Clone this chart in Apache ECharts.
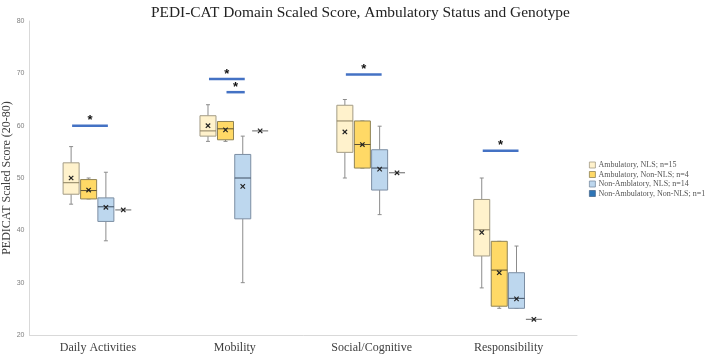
<!DOCTYPE html>
<html>
<head>
<meta charset="utf-8">
<script src="https://cdn.jsdelivr.net/npm/echarts@6/dist/echarts.min.js"></script>
<style>
  html, body { margin: 0; padding: 0; background: #fff; }
  #app { width: 708px; height: 356px; }
</style>
</head>
<body>
<div id="app"></div>
<script>
// categories and series
var categories = ['Daily Activities', 'Mobility', 'Social/Cognitive', 'Responsibility'];
var seriesNames = [
    'Ambulatory, NLS; n=15',
    'Ambulatory, Non-NLS; n=4',
    'Non-Amblatory, NLS; n=14',
    'Non-Ambulatory, Non-NLS; n=1'
];

// [min, Q1, median, Q3, max] per category
var ambNls = [[45, 46.9, 49.1, 52.9, 56], [57, 58, 59, 61.9, 64], [50, 54.9, 60.9, 63.9, 65], [29, 35.1, 40.1, 45.9, 50]];
var ambNlsMean = [50, 60, 58.8, 39.6];
var ambNonNls = [[46, 46, 47.6, 49.7, 50], [57, 57.3, 59.4, 60.8, 60.8], [51.9, 51.9, 56.4, 60.9, 60.9], [25.1, 25.5, 32.4, 37.9, 37.9]];
var ambNonNlsMean = [47.7, 59.2, 56.4, 31.9];
var nonAmbNls = [[38, 41.7, 44.5, 46.2, 51.1], [30, 42.2, 50, 54.5, 58], [43, 47.7, 51.9, 55.4, 59.9], [25.1, 25.1, 27, 31.9, 37]];
var nonAmbNlsMean = [44.4, 48.4, 51.7, 26.9];
// single subject
var nonAmbNonNls = [43.9, 59, 51, 23];

// significance bars: category, left box, right box, value
var sigCats = [0, 1, 1, 2, 3];
var sigFrom = [0, 0, 1, 0, 0];
var sigTo = [2, 2, 2, 2, 2];
var sigValues = [60, 68.9, 66.4, 69.8, 55.2];

var yTicks = [20, 30, 40, 50, 60, 70, 80];

// layout of the boxes inside a category band (fractions of band width)
var boxOffsets = [-0.196, -0.068, 0.058, 0.185];
var boxWidth = 0.117;

var fills = ['#FFF2CC', '#FFD966', '#BDD7EE', '#2E75B6'];
var borders = ['#A39C86', '#8F8356', '#7C8EA3', '#4A6A8F'];
var medians = ['#8A7E5E', '#5E5230', '#3E4E62', '#333'];
var whiskerColor = '#8C8C8C';

function xMark(cx, cy) {
    var s = 2.2;
    return [
        { type: 'line', shape: { x1: cx - s, y1: cy - s, x2: cx + s, y2: cy + s }, style: { stroke: '#222', lineWidth: 1.2 } },
        { type: 'line', shape: { x1: cx - s, y1: cy + s, x2: cx + s, y2: cy - s }, style: { stroke: '#222', lineWidth: 1.2 } }
    ];
}

function boxRenderer(idx) {
    return function (params, api) {
        var cat = api.value(0);
        var band = api.size([1, 0])[0];
        var cx = api.coord([cat, 0])[0] + boxOffsets[idx] * band;
        var w = boxWidth * band;
        var yMin = api.coord([cat, api.value(1)])[1];
        var yQ1 = api.coord([cat, api.value(2)])[1];
        var yMed = api.coord([cat, api.value(3)])[1];
        var yQ3 = api.coord([cat, api.value(4)])[1];
        var yMax = api.coord([cat, api.value(5)])[1];
        var yMean = api.coord([cat, api.value(6)])[1];
        var cap = 2;
        var children = [
            { type: 'line', shape: { x1: cx, y1: yMax, x2: cx, y2: yQ3 }, style: { stroke: whiskerColor, lineWidth: 1 } },
            { type: 'line', shape: { x1: cx, y1: yQ1, x2: cx, y2: yMin }, style: { stroke: whiskerColor, lineWidth: 1 } },
            { type: 'line', shape: { x1: cx - cap, y1: yMax, x2: cx + cap, y2: yMax }, style: { stroke: whiskerColor, lineWidth: 1 } },
            { type: 'line', shape: { x1: cx - cap, y1: yMin, x2: cx + cap, y2: yMin }, style: { stroke: whiskerColor, lineWidth: 1 } },
            { type: 'rect', shape: { x: cx - w / 2, y: yQ3, width: w, height: yQ1 - yQ3 }, style: { fill: fills[idx], stroke: borders[idx], lineWidth: 1 } },
            { type: 'line', shape: { x1: cx - w / 2, y1: yMed, x2: cx + w / 2, y2: yMed }, style: { stroke: medians[idx], lineWidth: 1 } }
        ];
        return { type: 'group', children: children.concat(xMark(cx, yMean)) };
    };
}

function boxData(stats, means) {
    return stats.map(function (s, i) { return [i, s[0], s[1], s[2], s[3], s[4], means[i]]; });
}

var series = [
    { name: seriesNames[0], type: 'custom', renderItem: boxRenderer(0), data: boxData(ambNls, ambNlsMean), encode: { x: 0, y: [1, 2, 3, 4, 5, 6] }, itemStyle: { color: fills[0] } },
    { name: seriesNames[1], type: 'custom', renderItem: boxRenderer(1), data: boxData(ambNonNls, ambNonNlsMean), encode: { x: 0, y: [1, 2, 3, 4, 5, 6] }, itemStyle: { color: fills[1] } },
    { name: seriesNames[2], type: 'custom', renderItem: boxRenderer(2), data: boxData(nonAmbNls, nonAmbNlsMean), encode: { x: 0, y: [1, 2, 3, 4, 5, 6] }, itemStyle: { color: fills[2] } },
    {
        name: seriesNames[3], type: 'custom',
        data: nonAmbNonNls.map(function (v, i) { return [i, v]; }),
        encode: { x: 0, y: 1 },
        itemStyle: { color: fills[3] },
        renderItem: function (params, api) {
            var cat = api.value(0);
            var band = api.size([1, 0])[0];
            var cx = api.coord([cat, 0])[0] + boxOffsets[3] * band;
            var cy = api.coord([cat, api.value(1)])[1];
            var w = boxWidth * band;
            return {
                type: 'group',
                children: [
                    { type: 'line', shape: { x1: cx - w / 2, y1: cy, x2: cx + w / 2, y2: cy }, style: { stroke: '#666', lineWidth: 1 } }
                ].concat(xMark(cx, cy))
            };
        }
    },
    {
        name: 'sig', type: 'custom', silent: true,
        data: sigCats.map(function (c, i) { return [c, sigValues[i], sigFrom[i], sigTo[i]]; }),
        encode: { x: 0, y: 1 },
        renderItem: function (params, api) {
            var cat = api.value(0);
            var band = api.size([1, 0])[0];
            var base = api.coord([cat, api.value(1)]);
            var x1 = base[0] + boxOffsets[api.value(2)] * band + 1;
            var x2 = base[0] + boxOffsets[api.value(3)] * band + 2;
            return {
                type: 'group',
                children: [
                    { type: 'line', shape: { x1: x1, y1: base[1], x2: x2, y2: base[1] }, style: { stroke: '#4472C4', lineWidth: 2.5 } },
                    { type: 'text', x: (x1 + x2) / 2, y: base[1] - 5, style: { text: '*', fill: '#111', font: 'bold 13px "Liberation Sans", Arial', align: 'center', verticalAlign: 'middle' } }
                ]
            };
        }
    }
];

var myEchart = echarts.init(document.getElementById('app'));
myEchart.setOption({
    animation: false,
    title: {
        text: 'PEDI-CAT Domain Scaled Score, Ambulatory Status and Genotype',
        left: 146, top: 0,
        textStyle: { fontFamily: '"Liberation Serif", "Times New Roman", serif', fontSize: 15.4, fontWeight: 'normal', color: '#222' }
    },
    legend: {
        orient: 'vertical', left: 584, top: 156,
        icon: 'rect', itemWidth: 6, itemHeight: 6, itemGap: 1.5,
        textStyle: { fontFamily: '"Liberation Serif", "Times New Roman", serif', fontSize: 8, color: '#555', padding: [0, 0, 0, -2] },
        data: seriesNames.map(function (n, i) {
            return { name: n, itemStyle: { color: fills[i], borderColor: borders[i], borderWidth: 0.8 } };
        })
    },
    grid: { left: 29.5, right: 131, top: 21, bottom: 21, outerBoundsMode: 'none' },
    xAxis: {
        type: 'category', data: categories,
        axisLine: { lineStyle: { color: '#D9D9D9' } },
        axisTick: { show: false },
        axisLabel: { margin: 7, fontFamily: '"Liberation Serif", "Times New Roman", serif', fontSize: 12, color: '#404040' }
    },
    yAxis: {
        type: 'value', min: yTicks[0], max: yTicks[yTicks.length - 1], interval: 10,
        name: 'PEDICAT Scaled Score (20-80)', nameLocation: 'middle', nameGap: 17, nameMoveOverlap: false,
        nameTextStyle: { fontFamily: '"Liberation Serif", "Times New Roman", serif', fontSize: 12, color: '#404040' },
        axisLine: { show: true, lineStyle: { color: '#D9D9D9' } },
        axisTick: { show: false },
        splitLine: { show: false },
        axisLabel: { margin: 5, fontSize: 7, color: '#7F7F7F', fontFamily: '"Liberation Sans", Arial' }
    },
    series: series
});
</script>
</body>
</html>
